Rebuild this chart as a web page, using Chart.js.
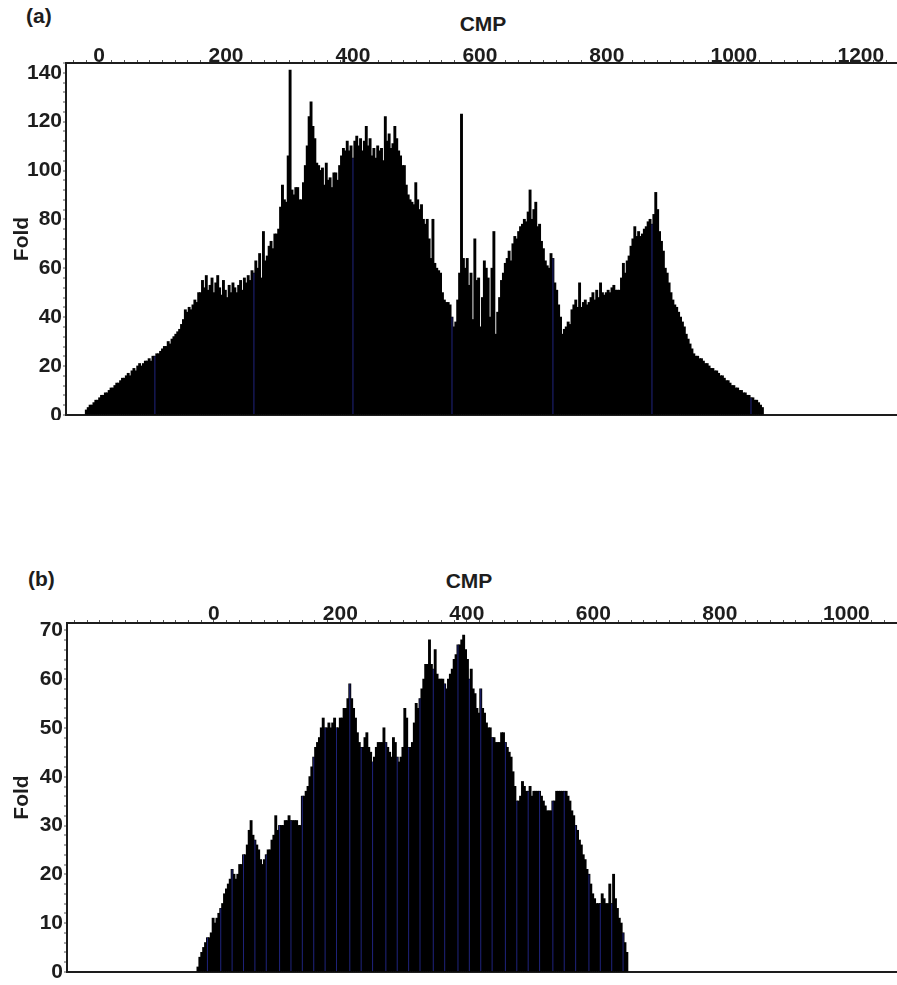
<!DOCTYPE html>
<html>
<head>
<meta charset="utf-8">
<title>CMP fold</title>
<script src="https://cdn.jsdelivr.net/npm/chart.js@4.4.1/dist/chart.umd.min.js"></script>
<style>
  body { margin: 0; background: #fff; width: 897px; height: 985px; position: relative; overflow: hidden;
         font-family: "Liberation Sans", Arial, sans-serif; }
  .lbl { position: absolute; font-weight: bold; font-size: 21px; line-height: 1; color: #1d1d1d; white-space: nowrap; }
  .mid { transform: translateX(-50%); }
  canvas { position: absolute; left: 0; }
</style>
</head>
<body>
<div class="lbl" style="left:26px; top:5px">(a)</div>
<div class="lbl mid" style="left:483px; top:13px">CMP</div>
<canvas id="chartA" width="897" height="420" style="top:0"></canvas>

<div class="lbl" style="left:28px; top:568px">(b)</div>
<div class="lbl mid" style="left:469px; top:570px">CMP</div>
<canvas id="chartB" width="897" height="420" style="top:560px"></canvas>

<script>
// (a) fold per 3-CMP bin, first bin at CMP -20
const cmpStartA = -20;
const cmpStepA = 3;
const foldA = [
  2, 3, 4, 4, 5, 6, 6, 7, 8, 8,
  9, 9, 10, 11, 11, 12, 13, 13, 14, 15,
  15, 16, 17, 16, 18, 19, 18, 20, 21, 20,
  21, 22, 22, 23, 22, 24, 24, 25, 25, 26,
  27, 28, 28, 30, 29, 31, 32, 33, 34, 35,
  37, 39, 43, 42, 44, 43, 45, 47, 46, 50,
  50, 55, 52, 57, 51, 53, 56, 50, 54, 57,
  52, 49, 55, 51, 48, 53, 50, 54, 52, 50,
  53, 55, 51, 56, 54, 57, 55, 59, 58, 63,
  60, 66, 56, 75, 63, 65, 69, 71, 68, 74,
  74, 76, 85, 94, 88, 87, 106, 141, 92, 90,
  93, 93, 88, 88, 95, 102, 110, 122, 128, 118,
  113, 103, 102, 100, 101, 94, 103, 96, 97, 93,
  99, 99, 96, 102, 106, 109, 108, 112, 108, 110,
  105, 112, 114, 110, 113, 108, 112, 118, 110, 113,
  106, 109, 105, 110, 108, 109, 104, 122, 112, 115,
  109, 111, 118, 113, 108, 106, 102, 102, 94, 90,
  88, 87, 86, 95, 88, 84, 86, 80, 78, 80,
  72, 64, 80, 62, 60, 59, 58, 50, 47, 46,
  46, 45, 40, 36, 38, 47, 58, 123, 64, 60,
  64, 53, 58, 39, 72, 55, 56, 36, 48, 63,
  60, 56, 40, 60, 75, 33, 42, 48, 55, 58,
  62, 64, 67, 63, 70, 73, 72, 75, 77, 78,
  80, 79, 83, 92, 80, 84, 87, 77, 78, 71,
  68, 63, 61, 60, 66, 64, 54, 51, 45, 40,
  33, 35, 36, 38, 37, 43, 45, 47, 44, 54,
  44, 46, 47, 45, 46, 48, 50, 47, 51, 48,
  54, 50, 49, 50, 51, 50, 52, 53, 51, 51,
  51, 56, 62, 58, 63, 65, 69, 72, 77, 73,
  75, 73, 74, 76, 77, 79, 80, 78, 82, 91,
  84, 75, 71, 67, 60, 58, 54, 50, 47, 45,
  44, 42, 40, 38, 36, 33, 31, 29, 27, 25,
  24, 24, 23, 23, 22, 21, 21, 20, 19, 19,
  18, 18, 17, 16, 16, 15, 14, 14, 13, 12,
  12, 11, 11, 10, 10, 9, 9, 8, 8, 7,
  7, 6, 6, 5, 4, 3
];
// CMPs whose bars are drawn in blue
const markA = [88, 244, 400, 556, 715, 871, 1027];
const cmpLabelsA = [0, 200, 400, 600, 800, 1000, 1200];
const foldLabelsA = [0, 20, 40, 60, 80, 100, 120, 140];

// (b) fold per 3-CMP bin, first bin at CMP -25
const cmpStartB = -25;
const cmpStepB = 3;
const foldB = [
  1, 3, 4, 5, 6, 7, 7, 8, 11, 10,
  11, 12, 13, 14, 16, 17, 18, 19, 21, 20,
  19, 20, 22, 22, 24, 24, 26, 29, 31, 28,
  27, 26, 25, 23, 22, 23, 24, 25, 25, 27,
  28, 32, 29, 30, 30, 30, 31, 31, 32, 31,
  31, 31, 31, 30, 30, 36, 36, 37, 38, 40,
  42, 44, 46, 47, 48, 50, 52, 50, 50, 51,
  50, 51, 52, 50, 50, 52, 52, 54, 54, 56,
  59, 56, 54, 52, 49, 47, 46, 46, 48, 49,
  46, 45, 43, 44, 46, 47, 47, 47, 50, 47,
  46, 45, 44, 48, 47, 44, 43, 44, 46, 54,
  52, 46, 46, 47, 51, 55, 54, 56, 58, 60,
  63, 63, 68, 63, 62, 66, 61, 60, 60, 60,
  59, 58, 60, 61, 62, 64, 65, 67, 67, 68,
  69, 66, 64, 60, 62, 58, 57, 54, 53, 58,
  54, 53, 51, 50, 50, 48, 48, 47, 47, 47,
  49, 49, 47, 46, 45, 44, 41, 38, 35, 35,
  36, 39, 38, 37, 37, 38, 36, 37, 37, 37,
  37, 36, 35, 34, 33, 33, 33, 35, 35, 37,
  37, 37, 37, 37, 37, 36, 35, 33, 32, 30,
  29, 27, 26, 24, 23, 21, 20, 18, 16, 15,
  14, 14, 14, 16, 15, 14, 14, 18, 14, 20,
  15, 13, 11, 10, 8, 6, 4
];
const markB = [-9, 10, 28, 46, 65, 83, 103, 121, 140, 158, 177, 195, 215, 233, 251, 271,
  289, 308, 327, 347, 365, 385, 404, 422, 441, 460, 478, 498, 516, 535, 555, 572, 592, 610, 629, 648];
const cmpLabelsB = [0, 200, 400, 600, 800, 1000];
const foldLabelsB = [0, 10, 20, 30, 40, 50, 60, 70];

const FONT = { family: '"Liberation Sans", Arial, sans-serif', size: 21, weight: 'bold' };
const INK = '#1d1d1d';

function tickList(min, max, step) {
  const out = [];
  for (let v = Math.ceil(min / step) * step; v <= max + 1e-9; v += step) {
    out.push({ value: +v.toFixed(6) });
  }
  return out;
}

function points(start, step, values) {
  return values.map((v, i) => ({ x: start + step * i, y: v }));
}

function markedPoints(start, step, values, marks) {
  return marks.map(m => {
    const i = Math.round((m - start) / step);
    return { x: start + step * i, y: values[i] };
  });
}

function foldChart(id, cfg) {
  const all = points(cfg.start, cfg.step, cfg.fold);
  const blue = markedPoints(cfg.start, cfg.step, cfg.fold, cfg.marks);
  return new Chart(document.getElementById(id), {
    type: 'bar',
    data: {
      datasets: [
        { data: blue, backgroundColor: '#1e2278', barPercentage: 0.55, categoryPercentage: 1,
          grouped: false, order: 0, inflateAmount: 0 },
        { data: all, backgroundColor: '#000', barPercentage: 1, categoryPercentage: 1,
          grouped: false, order: 1, inflateAmount: 0.5 }
      ]
    },
    options: {
      responsive: false,
      animation: false,
      layout: { padding: { left: 0, right: 0, top: 0, bottom: cfg.padBottom } },
      plugins: { legend: { display: false }, tooltip: { enabled: false } },
      scales: {
        x: {
          type: 'linear', position: 'top', min: cfg.xMin, max: cfg.xMax, offset: false,
          afterBuildTicks: s => { s.ticks = tickList(cfg.xMin, cfg.xMax, cfg.xMinor); },
          afterFit: s => { s.height = cfg.top; s.paddingLeft = s.paddingRight = 0; },
          ticks: {
            autoSkip: false, maxRotation: 0, padding: cfg.xPad, color: INK, font: FONT,
            callback: v => cfg.xLabels.includes(v) ? String(v) : ''
          },
          grid: { drawOnChartArea: false, offset: false, tickLength: 3, tickColor: '#555', tickWidth: 1 },
          border: { display: true, color: INK, width: 2 }
        },
        y: {
          min: 0, max: cfg.yMax,
          afterBuildTicks: s => { s.ticks = tickList(0, cfg.yMax, cfg.yMinor); },
          afterFit: s => { s.width = cfg.left; s.paddingTop = s.paddingBottom = 0; },
          ticks: {
            autoSkip: false, padding: 1, color: INK, font: FONT,
            callback: v => cfg.yLabels.includes(v) ? String(v) : ''
          },
          grid: {
            drawOnChartArea: true, tickLength: 3, tickColor: '#555', tickWidth: 1,
            color: c => (c.tick && c.tick.value === 0) ? INK : 'rgba(0,0,0,0)',
            lineWidth: c => (c.tick && c.tick.value === 0) ? 2 : 0
          },
          border: { display: true, color: INK, width: 2 },
          title: { display: true, text: 'Fold', color: INK, font: FONT, padding: { top: 10, bottom: 0 } }
        }
      }
    }
  });
}

foldChart('chartA', {
  start: cmpStartA, step: cmpStepA, fold: foldA, marks: markA,
  xMin: -52, xMax: 1257, xMinor: 20, xLabels: cmpLabelsA, xPad: -9,
  yMax: 144, yMinor: 4, yLabels: foldLabelsA,
  top: 63, left: 66, padBottom: 5
});

foldChart('chartB', {
  start: cmpStartB, step: cmpStepB, fold: foldB, marks: markB,
  xMin: -232, xMax: 1080, xMinor: 20, xLabels: cmpLabelsB, xPad: -7,
  yMax: 71.5, yMinor: 2, yLabels: foldLabelsB,
  top: 63, left: 67, padBottom: 8
});
</script>
</body>
</html>
